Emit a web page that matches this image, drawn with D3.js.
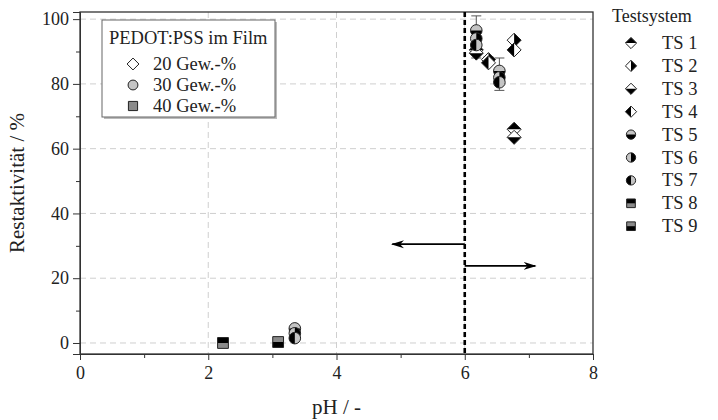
<!DOCTYPE html>
<html>
<head>
<meta charset="utf-8">
<script src="https://cdn.jsdelivr.net/npm/d3@7"></script>
<style>
  body { margin: 0; background: #fff; }
  svg text { font-family: "Liberation Serif", "Times New Roman", serif; fill: #222; }
</style>
</head>
<body>
<div id="chart"></div>
<script>
// Testsystem data: [pH, Restaktivität %]
const ts1 = [[6.18, 90.5], [6.77, 66.0]];
const ts2 = [[6.77, 93.5], [6.37, 87.5]];
const ts3 = [[6.18, 89.5], [6.77, 63.5]];
const ts4 = [[6.77, 90.5], [6.37, 86.5]];
const ts5 = [[6.18, 96.5], [6.54, 84.0], [3.35, 4.5]];
const ts6 = [[6.18, 94.0], [6.54, 82.0], [3.35, 3.0]];
const ts7 = [[6.18, 92.0], [6.54, 80.5], [3.35, 1.5]];
const ts8 = [[2.23, 0.0]];
const ts9 = [[3.09, 0.3]];

const seriesNames = ["TS 1", "TS 2", "TS 3", "TS 4", "TS 5", "TS 6", "TS 7", "TS 8", "TS 9"];
const seriesData = [ts1, ts2, ts3, ts4, ts5, ts6, ts7, ts8, ts9];
const seriesShape = ["diamond", "diamond", "diamond", "diamond", "circle", "circle", "circle", "square", "square"];
const seriesHalf = ["top", "right", "bottom", "left", "bottom", "right", "left", "top", "bottom"];

// error bars [pH, low, high]
const errorBars = [[6.18, 88.0, 101.0], [6.37, 86.0, 88.3], [6.54, 78.0, 88.0]];

const filmLabels = ["20 Gew.-%", "30 Gew.-%", "40 Gew.-%"];
const filmShapes = ["diamond", "circle", "square"];

const xTicks = [0, 2, 4, 6, 8];
const yTicks = [0, 20, 40, 60, 80, 100];
const shapeFill = { diamond: "#ffffff", circle: "#c4c4c4", square: "#8a8a8a" };

const W = 718, H = 420;
const m = { top: 12, left: 80, right: 125, bottom: 66 };
const iw = W - m.left - m.right, ih = H - m.top - m.bottom;
const serif = "'Liberation Serif', 'Times New Roman', serif";

const svg = d3.select("#chart").append("svg").attr("width", W).attr("height", H);
const g = svg.append("g").attr("transform", `translate(${m.left},${m.top})`);

const x = d3.scaleLinear().domain([0, 8]).range([0, iw]);
const y = d3.scaleLinear().domain([-3.4, 102.2]).range([ih, 0]);

// grid
g.selectAll(".gx").data([2, 4, 6]).enter().append("line")
  .attr("x1", d => x(d)).attr("x2", d => x(d)).attr("y1", 0).attr("y2", ih)
  .attr("stroke", "#cfcfcf").attr("stroke-dasharray", "6,4");
g.selectAll(".gy").data(yTicks).enter().append("line")
  .attr("x1", 0).attr("x2", iw).attr("y1", d => y(d)).attr("y2", d => y(d))
  .attr("stroke", "#cfcfcf").attr("stroke-dasharray", "6,4");

// axes
g.append("g").attr("transform", `translate(0,${ih})`)
  .call(d3.axisBottom(x).tickValues(xTicks).tickSize(6).tickPadding(6).tickFormat(d3.format("d")))
  .attr("font-family", serif).attr("font-size", 18);
g.append("g").attr("transform", `translate(0,${ih})`)
  .call(d3.axisBottom(x).tickValues([1, 3, 5, 7]).tickSize(4).tickFormat(""))
  .select(".domain").remove();
g.append("g")
  .call(d3.axisLeft(y).tickValues(yTicks).tickSize(7).tickPadding(4))
  .attr("font-family", serif).attr("font-size", 18);
g.append("g")
  .call(d3.axisLeft(y).tickValues([10, 30, 50, 70, 90]).tickSize(4).tickFormat(""))
  .select(".domain").remove();
g.selectAll(".tick text").attr("fill", "#222");
g.selectAll(".domain, .tick line").attr("stroke", "#333");

// frame
g.append("rect").attr("width", iw).attr("height", ih)
  .attr("fill", "none").attr("stroke", "#333").attr("stroke-width", 1.3);

// dashed pH 6 line
g.append("line").attr("x1", x(6)).attr("x2", x(6)).attr("y1", 0).attr("y2", ih)
  .attr("stroke", "#000").attr("stroke-width", 2.6).attr("stroke-dasharray", "5,3");

// arrows
const defs = svg.append("defs");
defs.append("marker").attr("id", "arr").attr("viewBox", "0 0 10 10")
  .attr("refX", 9).attr("refY", 5).attr("markerWidth", 13).attr("markerHeight", 10)
  .attr("orient", "auto-start-reverse").attr("markerUnits", "userSpaceOnUse")
  .attr("preserveAspectRatio", "none")
  .append("path").attr("d", "M0,1 L10,5 L0,9 L3,5 Z").attr("fill", "#000");
g.append("line").attr("x1", x(6)).attr("x2", x(4.87)).attr("y1", y(30.5)).attr("y2", y(30.5))
  .attr("stroke", "#000").attr("stroke-width", 1.8).attr("marker-end", "url(#arr)");
g.append("line").attr("x1", x(6)).attr("x2", x(7.1)).attr("y1", y(23.8)).attr("y2", y(23.8))
  .attr("stroke", "#000").attr("stroke-width", 1.8).attr("marker-end", "url(#arr)");

// marker drawing
function halfPath(shape, half, r) {
  if (shape === "diamond") {
    const p = {
      top: [[-r, 0], [0, -r], [r, 0]], bottom: [[-r, 0], [0, r], [r, 0]],
      left: [[0, -r], [-r, 0], [0, r]], right: [[0, -r], [r, 0], [0, r]]
    }[half];
    return "M" + p.map(q => q.join(",")).join("L") + "Z";
  }
  if (shape === "circle") {
    return {
      top: `M${-r},0 A${r},${r} 0 0 1 ${r},0 Z`, bottom: `M${-r},0 A${r},${r} 0 0 0 ${r},0 Z`,
      left: `M0,${-r} A${r},${r} 0 0 0 0,${r} Z`, right: `M0,${-r} A${r},${r} 0 0 1 0,${r} Z`
    }[half];
  }
  return {
    top: `M${-r},${-r}H${r}V0H${-r}Z`, bottom: `M${-r},0H${r}V${r}H${-r}Z`,
    left: `M${-r},${-r}H0V${r}H${-r}Z`, right: `M0,${-r}H${r}V${r}H0Z`
  }[half];
}
function fullPath(shape, r) {
  if (shape === "diamond") return `M0,${-r}L${r},0L0,${r}L${-r},0Z`;
  if (shape === "circle") return `M${-r},0A${r},${r} 0 1 1 ${r},0A${r},${r} 0 1 1 ${-r},0Z`;
  return `M${-r},${-r}H${r}V${r}H${-r}Z`;
}
const sizes = { diamond: 7, circle: 5.8, square: 5.4 };
function drawMarker(sel, shape, half, scale) {
  const r = sizes[shape] * scale;
  sel.append("path").attr("d", fullPath(shape, r)).attr("fill", shapeFill[shape]);
  if (half) sel.append("path").attr("d", halfPath(shape, half, r)).attr("fill", "#000");
  sel.append("path").attr("d", fullPath(shape, r)).attr("fill", "none")
    .attr("stroke", "#222").attr("stroke-width", 1);
}

// error bars
const eb = g.append("g");
errorBars.forEach(([px, lo, hi]) => {
  eb.append("line").attr("x1", x(px)).attr("x2", x(px)).attr("y1", y(lo)).attr("y2", y(hi))
    .attr("stroke", "#555");
  [lo, hi].forEach(v => eb.append("line").attr("x1", x(px) - 5).attr("x2", x(px) + 5)
    .attr("y1", y(v)).attr("y2", y(v)).attr("stroke", "#555"));
});

// points
seriesData.forEach((pts, i) => {
  pts.forEach(([px, val]) => {
    const mk = g.append("g").attr("transform", `translate(${x(px)},${y(val)})`);
    drawMarker(mk, seriesShape[i], seriesHalf[i], 1);
  });
});

// left legend
const lg = g.append("g").attr("transform", `translate(${102 - m.left},${20 - m.top})`);
lg.append("rect").attr("x", 2).attr("y", 2).attr("width", 173).attr("height", 97)
  .attr("fill", "#bbb");
lg.append("rect").attr("width", 173).attr("height", 97)
  .attr("fill", "#fff").attr("stroke", "#666");
lg.append("text").attr("x", 7).attr("y", 24).style("font-size", "18.5px").text("PEDOT:PSS im Film");
filmLabels.forEach((lab, i) => {
  const row = lg.append("g").attr("transform", `translate(31,${44 + i * 21})`);
  drawMarker(row, filmShapes[i], null, 0.85);
  row.append("text").attr("x", 20).attr("y", 6).style("font-size", "18.5px").text(lab);
});

// right legend
const rg = svg.append("g").attr("transform", "translate(612,0)");
rg.append("text").attr("x", 0).attr("y", 22).style("font-size", "18px").text("Testsystem");
seriesNames.forEach((name, i) => {
  const row = rg.append("g").attr("transform", `translate(19,${43 + i * 22.9})`);
  drawMarker(row, seriesShape[i], seriesHalf[i], 0.8);
  row.append("text").attr("x", 31).attr("y", 6).style("font-size", "18.5px").text(name);
});

// axis titles
svg.append("text").attr("x", m.left + iw / 2).attr("y", 414).attr("text-anchor", "middle")
  .style("font-size", "21px").text("pH / -");
svg.append("text").attr("transform", `translate(24,${m.top + ih / 2}) rotate(-90)`)
  .attr("text-anchor", "middle").style("font-size", "21px").text("Restaktivität / %");
</script>
</body>
</html>
